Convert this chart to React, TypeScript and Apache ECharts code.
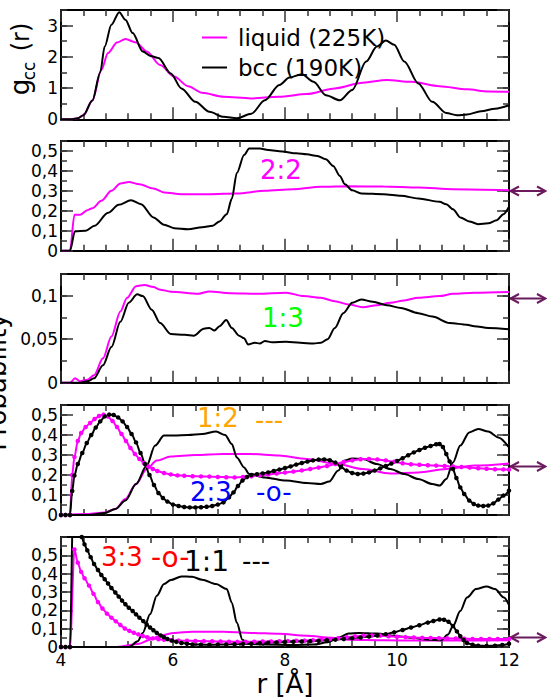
import React, { useEffect, useRef } from 'react';
import * as echarts from 'echarts';

// ---------------- data (r in Å, value) ----------------
// Panel 1: g_cc(r)
const gLiquid = [[4,0],[4.2,0],[4.3,0.03],[4.4,0.13],[4.56,0.6],[4.72,1.58],[4.84,2.12],[5.0,2.46],[5.15,2.57],[5.34,2.46],[5.53,2.17],[5.77,1.74],[6.02,1.37],[6.27,1.06],[6.52,0.85],[6.9,0.72],[7.39,0.67],[7.89,0.72],[8.39,0.81],[8.89,0.99],[9.39,1.17],[9.82,1.26],[10.26,1.2],[10.76,1.06],[11.25,0.96],[11.63,0.89],[12,0.88]];
const gBcc = [[4,0],[4.2,0],[4.3,0.03],[4.4,0.13],[4.56,0.6],[4.7,1.5],[4.78,2.33],[4.9,3.03],[5.04,3.43],[5.15,3.19],[5.28,2.76],[5.46,2.17],[5.6,2.03],[5.74,1.96],[5.96,1.47],[6.15,0.99],[6.4,0.56],[6.65,0.24],[6.9,0.08],[7.14,0.03],[7.4,0.18],[7.64,0.61],[7.9,1.1],[8.08,1.34],[8.3,1.44],[8.51,1.2],[8.73,0.77],[8.98,0.61],[9.2,0.94],[9.45,1.85],[9.64,2.33],[9.8,2.52],[9.95,2.39],[10.13,1.85],[10.38,1.15],[10.63,0.56],[10.88,0.2],[11.07,0.13],[11.25,0.15],[11.5,0.26],[11.75,0.34],[12,0.45]];

// Panel 2: 2:2
const p22Liquid = [[4,0],[4.16,0],[4.24,0.18],[4.34,0.18],[4.47,0.203],[4.56,0.213],[4.72,0.25],[4.9,0.3],[5.06,0.337],[5.21,0.345],[5.4,0.333],[5.65,0.312],[5.84,0.292],[6.15,0.283],[6.65,0.283],[7.14,0.287],[7.64,0.3],[8.14,0.308],[8.64,0.32],[9.14,0.323],[9.76,0.322],[10.38,0.317],[11.0,0.308],[12,0.303]];
const p22Bcc = [[4,0],[4.16,0],[4.25,0.097],[4.44,0.1],[4.6,0.125],[4.84,0.19],[5.03,0.23],[5.25,0.253],[5.43,0.233],[5.65,0.167],[5.84,0.13],[6.02,0.113],[6.27,0.108],[6.52,0.117],[6.71,0.125],[6.83,0.147],[6.96,0.183],[7.05,0.26],[7.14,0.39],[7.27,0.48],[7.36,0.513],[7.55,0.512],[7.7,0.505],[7.95,0.497],[8.2,0.488],[8.39,0.483],[8.58,0.475],[8.73,0.458],[8.86,0.425],[8.98,0.375],[9.07,0.333],[9.2,0.303],[9.36,0.287],[9.76,0.283],[10.07,0.275],[10.38,0.262],[10.76,0.245],[10.88,0.233],[11.0,0.208],[11.13,0.167],[11.29,0.147],[11.45,0.133],[11.63,0.137],[11.78,0.153],[11.9,0.183],[12,0.22]];

// Panel 3: 1:3
const p13Liquid = [[4,0],[4.16,0],[4.25,0.005],[4.34,0.0016],[4.47,0.0035],[4.59,0.0085],[4.75,0.028],[4.9,0.053],[5.06,0.082],[5.18,0.0977],[5.34,0.111],[5.49,0.1124],[5.65,0.11],[5.77,0.107],[5.96,0.1047],[6.46,0.1023],[6.65,0.105],[7.02,0.103],[7.52,0.1023],[8.02,0.1035],[8.33,0.0996],[8.64,0.0977],[8.89,0.0938],[9.14,0.0899],[9.39,0.0868],[9.64,0.089],[9.88,0.0919],[10.13,0.0946],[10.38,0.0977],[10.76,0.0996],[11.0,0.1023],[11.38,0.1035],[12,0.1043]];
const p13Bcc = [[4,0],[4.34,0],[4.47,0.0016],[4.59,0.005],[4.75,0.02],[4.9,0.041],[5.06,0.07],[5.21,0.092],[5.36,0.1016],[5.46,0.0996],[5.62,0.084],[5.77,0.0686],[5.96,0.056],[6.21,0.055],[6.37,0.054],[6.55,0.062],[6.65,0.063],[6.74,0.06],[6.83,0.065],[6.95,0.072],[7.05,0.063],[7.18,0.054],[7.27,0.051],[7.34,0.044],[7.46,0.046],[7.55,0.045],[7.64,0.048],[7.77,0.0465],[8.02,0.047],[8.27,0.046],[8.51,0.045],[8.64,0.046],[8.76,0.05],[8.89,0.063],[9.04,0.08],[9.2,0.092],[9.36,0.0957],[9.57,0.093],[9.82,0.089],[10.07,0.086],[10.38,0.08],[10.63,0.076],[10.94,0.0686],[11.25,0.0667],[11.38,0.065],[11.63,0.063],[12,0.0616]];

// Panel 4: 1:2 (plain) and 2:3 (markers)
const p12Liquid = [[4,0],[4.47,0.005],[4.78,0.013],[4.97,0.03],[5.15,0.08],[5.34,0.155],[5.53,0.23],[5.71,0.272],[5.96,0.292],[6.4,0.3],[6.9,0.305],[7.39,0.305],[7.89,0.297],[8.39,0.28],[8.89,0.258],[9.39,0.23],[9.88,0.208],[10.38,0.213],[10.88,0.23],[11.38,0.247],[12,0.258]];
const p12Bcc = [[4,0],[4.5,0],[4.78,0.01],[4.97,0.03],[5.15,0.072],[5.34,0.155],[5.53,0.247],[5.68,0.347],[5.84,0.397],[6.02,0.397],[6.27,0.4],[6.52,0.405],[6.77,0.417],[6.93,0.4],[7.05,0.355],[7.14,0.288],[7.27,0.238],[7.36,0.205],[7.64,0.188],[8.02,0.172],[8.39,0.16],[8.64,0.155],[8.79,0.167],[8.95,0.222],[9.07,0.272],[9.2,0.283],[9.39,0.28],[9.64,0.255],[9.88,0.23],[10.13,0.205],[10.38,0.18],[10.63,0.155],[10.76,0.147],[10.88,0.18],[11.0,0.263],[11.13,0.347],[11.29,0.413],[11.45,0.43],[11.63,0.417],[11.81,0.388],[12,0.338]];
const p23Liquid = [[4,0],[4.08,0],[4.16,0],[4.2,0.2],[4.24,0.29],[4.3,0.37],[4.36,0.41],[4.44,0.44],[4.52,0.46],[4.6,0.48],[4.68,0.495],[4.76,0.502],[4.84,0.492],[4.92,0.47],[5.0,0.44],[5.08,0.405],[5.16,0.37],[5.24,0.335],[5.32,0.305],[5.4,0.28],[5.48,0.26],[5.56,0.243],[5.64,0.23],[5.72,0.22],[5.84,0.21],[5.96,0.203],[6.08,0.198],[6.2,0.196],[6.35,0.194],[6.5,0.193],[6.65,0.192],[6.8,0.19],[6.95,0.189],[7.1,0.188],[7.25,0.19],[7.4,0.194],[7.55,0.198],[7.7,0.202],[7.85,0.207],[8.0,0.212],[8.15,0.217],[8.3,0.223],[8.45,0.23],[8.6,0.237],[8.75,0.245],[8.9,0.255],[9.05,0.265],[9.2,0.273],[9.35,0.279],[9.5,0.28],[9.65,0.278],[9.8,0.273],[9.95,0.266],[10.1,0.259],[10.25,0.254],[10.4,0.251],[10.55,0.249],[10.7,0.247],[10.85,0.245],[11.0,0.243],[11.15,0.24],[11.3,0.237],[11.45,0.234],[11.6,0.231],[11.75,0.229],[11.9,0.228],[12,0.227]];
const p23Bcc = [[4,0],[4.08,0],[4.16,0],[4.2,0.12],[4.24,0.197],[4.3,0.255],[4.38,0.31],[4.46,0.36],[4.54,0.4],[4.62,0.437],[4.7,0.468],[4.78,0.493],[4.86,0.502],[4.94,0.5],[5.02,0.488],[5.1,0.468],[5.18,0.44],[5.26,0.405],[5.34,0.363],[5.42,0.31],[5.5,0.255],[5.58,0.2],[5.66,0.15],[5.74,0.11],[5.82,0.085],[5.9,0.067],[6.0,0.052],[6.1,0.045],[6.2,0.04],[6.3,0.038],[6.4,0.038],[6.5,0.039],[6.6,0.041],[6.7,0.045],[6.8,0.052],[6.9,0.063],[7.0,0.088],[7.08,0.113],[7.16,0.145],[7.24,0.172],[7.32,0.19],[7.4,0.2],[7.5,0.204],[7.6,0.208],[7.7,0.213],[7.8,0.22],[7.9,0.227],[8.0,0.235],[8.1,0.243],[8.2,0.252],[8.3,0.26],[8.4,0.267],[8.5,0.273],[8.6,0.277],[8.7,0.278],[8.8,0.274],[8.9,0.262],[9.0,0.24],[9.1,0.222],[9.2,0.21],[9.3,0.205],[9.4,0.207],[9.5,0.213],[9.6,0.222],[9.7,0.233],[9.8,0.245],[9.9,0.257],[10.0,0.27],[10.1,0.284],[10.2,0.299],[10.3,0.313],[10.4,0.325],[10.5,0.336],[10.6,0.345],[10.7,0.354],[10.76,0.355],[10.82,0.34],[10.88,0.305],[10.94,0.268],[11.0,0.23],[11.06,0.185],[11.13,0.138],[11.2,0.105],[11.29,0.072],[11.37,0.055],[11.45,0.047],[11.54,0.045],[11.63,0.047],[11.72,0.058],[11.81,0.077],[11.9,0.097],[12,0.122]];

// Panel 5: 1:1 (plain) and 3:3 (markers)
const p11Liquid = [[4,0],[5.0,0],[5.4,0.018],[5.59,0.04],[5.77,0.062],[6.02,0.077],[6.34,0.083],[6.9,0.083],[7.39,0.077],[7.89,0.072],[8.39,0.062],[8.83,0.05],[9.14,0.04],[9.76,0.037],[10.38,0.035],[11.0,0.035],[12,0.037]];
const p11Bcc = [[4,0],[5.21,0],[5.37,0.031],[5.46,0.077],[5.59,0.178],[5.71,0.279],[5.84,0.343],[5.96,0.365],[6.15,0.385],[6.34,0.383],[6.52,0.367],[6.77,0.343],[6.96,0.316],[7.05,0.242],[7.14,0.132],[7.24,0.04],[7.33,0.018],[7.64,0.013],[8.14,0.011],[8.51,0.013],[8.76,0.026],[8.95,0.05],[9.14,0.073],[9.32,0.077],[9.64,0.073],[9.95,0.062],[10.26,0.05],[10.57,0.04],[10.79,0.037],[10.91,0.068],[11.0,0.114],[11.13,0.196],[11.25,0.27],[11.41,0.316],[11.6,0.33],[11.75,0.316],[11.91,0.27],[12,0.228]];
const p33Liquid = [[4,0],[4.08,0],[4.16,0],[4.24,0.532],[4.3,0.46],[4.36,0.41],[4.42,0.375],[4.5,0.335],[4.58,0.29],[4.66,0.245],[4.74,0.21],[4.82,0.182],[4.9,0.16],[4.98,0.14],[5.06,0.12],[5.14,0.101],[5.22,0.088],[5.3,0.078],[5.38,0.069],[5.46,0.06],[5.54,0.053],[5.64,0.047],[5.74,0.042],[5.84,0.039],[5.96,0.037],[6.1,0.035],[6.25,0.034],[6.4,0.033],[6.55,0.032],[6.7,0.031],[6.85,0.03],[7.0,0.029],[7.15,0.028],[7.3,0.028],[7.45,0.029],[7.6,0.03],[7.75,0.03],[7.9,0.031],[8.05,0.032],[8.2,0.034],[8.35,0.035],[8.5,0.037],[8.65,0.04],[8.8,0.044],[8.95,0.048],[9.1,0.053],[9.25,0.058],[9.4,0.062],[9.55,0.063],[9.7,0.062],[9.85,0.059],[10.0,0.056],[10.15,0.054],[10.3,0.052],[10.45,0.05],[10.6,0.049],[10.75,0.048],[10.9,0.047],[11.05,0.046],[11.2,0.045],[11.35,0.044],[11.5,0.044],[11.65,0.044],[11.8,0.044],[12,0.044]];
const p33Bcc = [[4,0],[4.08,0],[4.16,0],[4.22,0.85],[4.37,0.6],[4.42,0.56],[4.47,0.527],[4.53,0.49],[4.59,0.453],[4.66,0.42],[4.72,0.393],[4.78,0.37],[4.84,0.346],[4.9,0.322],[4.97,0.297],[5.03,0.275],[5.09,0.253],[5.15,0.233],[5.21,0.214],[5.28,0.196],[5.34,0.178],[5.4,0.16],[5.47,0.141],[5.53,0.123],[5.59,0.106],[5.65,0.091],[5.71,0.077],[5.78,0.063],[5.84,0.053],[5.9,0.044],[5.98,0.035],[6.06,0.028],[6.15,0.022],[6.25,0.018],[6.35,0.014],[6.5,0.013],[6.65,0.012],[6.8,0.013],[6.95,0.014],[7.1,0.015],[7.25,0.017],[7.4,0.018],[7.55,0.021],[7.7,0.023],[7.85,0.025],[8.0,0.027],[8.15,0.029],[8.3,0.03],[8.45,0.032],[8.6,0.034],[8.75,0.037],[8.9,0.04],[9.05,0.044],[9.2,0.048],[9.35,0.052],[9.5,0.057],[9.65,0.063],[9.8,0.07],[9.95,0.08],[10.1,0.093],[10.25,0.106],[10.4,0.119],[10.55,0.133],[10.65,0.142],[10.76,0.15],[10.84,0.149],[10.92,0.138],[11.0,0.114],[11.07,0.085],[11.13,0.059],[11.19,0.038],[11.25,0.022],[11.35,0.012],[11.45,0.007],[11.6,0.006],[11.75,0.007],[11.88,0.011],[12,0.018]];

// axis scales
const X_MIN = 4;
const X_MAX = 12;
const X_MAJOR = 2;
const Y_MAX = [3.5, 0.55, 0.125, 0.55, 0.6];
const Y_MAJOR = [1, 0.1, 0.05, 0.1, 0.1];
const Y_MINOR = [0.5, 0.05, 0.025, 0.05, 0.05];
const LEGEND_NAMES = ['liquid (225K)', 'bcc (190K)'];

// ---------------- layout & style ----------------
const FONT = 'DejaVu Sans';
const MAGENTA = '#ff00ff';
const BLACK = '#000000';
const ARROW = '#6b1a5e';
const TICK = '#333333';
const GRID_LEFT = 61;
const GRID_RIGHT = 38;
const GRID_TOPS = [10, 141, 274, 405, 537];
const GRID_HEIGHTS = [109.3, 109.7, 108.7, 110, 110];
const ARROW_Y = [191, 298.5, 466.5, 637.5];

const fmt = (v: number) => String(Math.round(v * 10000) / 10000).replace('.', ',');

function buildOption() {
  const grid: any[] = [];
  const xAxis: any[] = [];
  const yAxis: any[] = [];
  for (let i = 0; i < 5; i++) {
    grid.push({ left: GRID_LEFT, right: GRID_RIGHT, top: GRID_TOPS[i], height: GRID_HEIGHTS[i], containLabel: false, outerBoundsMode: 'none' });
    const xBase = {
      type: 'value', gridIndex: i, min: X_MIN, max: X_MAX, interval: X_MAJOR,
      axisLine: { show: true, onZero: false, lineStyle: { color: BLACK, width: 2 } },
      axisTick: { show: true, inside: true, length: 12, lineStyle: { color: TICK, width: 1.5 } },
      minorTick: { show: true, splitNumber: 5, length: 6, lineStyle: { color: TICK, width: 1.5 } },
      splitLine: { show: false }, minorSplitLine: { show: false },
    };
    xAxis.push({
      ...xBase, position: 'bottom',
      axisLabel: { show: i === 4, color: BLACK, fontFamily: FONT, fontSize: 17, margin: 4 },
      name: i === 4 ? 'r [Å]' : '', nameLocation: 'middle', nameGap: 24,
      nameTextStyle: { fontFamily: FONT, fontSize: 26, color: BLACK },
    });
    xAxis.push({ ...xBase, position: 'top', axisLabel: { show: false } });

    const yBase = { type: 'value', gridIndex: i, min: 0, max: Y_MAX[i], splitLine: { show: false } };
    yAxis.push({
      ...yBase, position: 'left', interval: Y_MAJOR[i],
      axisLine: { show: true, onZero: false, lineStyle: { color: BLACK, width: 2 } },
      axisTick: { show: true, inside: true, length: 12, lineStyle: { color: TICK, width: 1.5 } },
      axisLabel: { show: true, color: BLACK, fontFamily: FONT, fontSize: 17, margin: 3, showMaxLabel: false, formatter: fmt },
    });
    yAxis.push({
      ...yBase, position: 'left', interval: Y_MINOR[i],
      axisLine: { show: false },
      axisTick: { show: true, inside: true, length: 6, lineStyle: { color: TICK, width: 1.5 } },
      axisLabel: { show: false },
    });
    yAxis.push({
      ...yBase, position: 'right', interval: Y_MAJOR[i],
      axisLine: { show: true, onZero: false, lineStyle: { color: BLACK, width: 2 } },
      axisTick: { show: true, inside: true, length: 12, lineStyle: { color: TICK, width: 1.5 } },
      axisLabel: { show: false },
    });
    yAxis.push({
      ...yBase, position: 'right', interval: Y_MINOR[i],
      axisLine: { show: false },
      axisTick: { show: true, inside: true, length: 6, lineStyle: { color: TICK, width: 1.5 } },
      axisLabel: { show: false },
    });
  }

  const line = (name: string, data: number[][], gi: number, color: string, markers: boolean) => ({
    type: 'line', name, data, xAxisIndex: 2 * gi, yAxisIndex: 4 * gi,
    symbol: markers ? 'circle' : 'none', showSymbol: markers, showAllSymbol: true, symbolSize: 4.5,
    smooth: 0.3, smoothMonotone: 'x', clip: true, silent: true,
    lineStyle: { color, width: 2 }, itemStyle: { color },
    emphasis: { disabled: true },
  });

  const series = [
    line(LEGEND_NAMES[0], gLiquid, 0, MAGENTA, false),
    line(LEGEND_NAMES[1], gBcc, 0, BLACK, false),
    line('2:2 liquid', p22Liquid, 1, MAGENTA, false),
    line('2:2 bcc', p22Bcc, 1, BLACK, false),
    line('1:3 liquid', p13Liquid, 2, MAGENTA, false),
    line('1:3 bcc', p13Bcc, 2, BLACK, false),
    line('1:2 liquid', p12Liquid, 3, MAGENTA, false),
    line('1:2 bcc', p12Bcc, 3, BLACK, false),
    line('2:3 liquid', p23Liquid, 3, MAGENTA, true),
    line('2:3 bcc', p23Bcc, 3, BLACK, true),
    line('1:1 liquid', p11Liquid, 4, MAGENTA, false),
    line('1:1 bcc', p11Bcc, 4, BLACK, false),
    line('3:3 liquid', p33Liquid, 4, MAGENTA, true),
    line('3:3 bcc', p33Bcc, 4, BLACK, true),
  ];

  const txt = (text: string, x: number, y: number, color: string, size: number) => ({
    type: 'text', x, y, silent: true, z: 100,
    style: { text, fill: color, fontFamily: FONT, fontSize: size, align: 'left', verticalAlign: 'middle' },
  });
  const rot = (text: string, x: number, y: number, size: number) => ({
    type: 'text', x, y, rotation: Math.PI / 2, silent: true, z: 100,
    style: { text, fill: BLACK, fontFamily: FONT, fontSize: size, align: 'center', verticalAlign: 'middle' },
  });

  const graphic: any[] = [
    txt('2:2', 260, 170, MAGENTA, 26),
    txt('1:3', 262, 318, '#00ff00', 26),
    txt('1:2', 197, 418, '#ffa500', 26),
    txt('---', 255, 420, '#ffa500', 26),
    txt('2:3', 190, 492, '#0000ff', 26),
    txt('-o-', 256, 492, '#0000ff', 26),
    txt('3:3', 101, 557, '#ff0000', 26),
    txt('-o-', 151, 557, '#ff0000', 28),
    txt('1:1', 184, 561, BLACK, 28),
    txt('---', 242, 561, BLACK, 26),
    rot('Probability', -3, 382, 26),
    rot('g', 20, 87, 26),
    rot('cc', 29, 71, 17),
    rot('(r)', 21, 37, 24),
  ];
  for (const y of ARROW_Y) {
    graphic.push({ type: 'line', silent: true, shape: { x1: 510, y1: y, x2: 545, y2: y }, style: { stroke: ARROW, lineWidth: 2 } });
    graphic.push({ type: 'polyline', silent: true, shape: { points: [[519, y - 4.5], [510.5, y], [519, y + 4.5]] }, style: { stroke: ARROW, lineWidth: 2, fill: null } });
    graphic.push({ type: 'polyline', silent: true, shape: { points: [[537, y - 4.5], [545.5, y], [537, y + 4.5]] }, style: { stroke: ARROW, lineWidth: 2, fill: null } });
  }

  return {
    animation: false,
    backgroundColor: '#ffffff',
    textStyle: { fontFamily: FONT },
    grid, xAxis, yAxis, series, graphic,
    legend: {
      data: LEGEND_NAMES.map((name) => ({ name, icon: 'rect' })),
      orient: 'vertical', left: 197, top: 21,
      itemWidth: 25, itemHeight: 2, itemGap: 7, selectedMode: false,
      textStyle: { fontFamily: FONT, fontSize: 23, color: BLACK, padding: [0, 0, 0, 6] },
    },
  };
}

export default function App() {
  const ref = useRef<HTMLDivElement>(null);
  useEffect(() => {
    if (!ref.current) return;
    const chart = echarts.init(ref.current, null, { renderer: 'svg' });
    chart.setOption(buildOption() as any);
    return () => chart.dispose();
  }, []);
  return <div ref={ref} style={{ position: 'fixed', left: 0, top: 0, width: 547, height: 699, background: '#fff' }} />;
}
